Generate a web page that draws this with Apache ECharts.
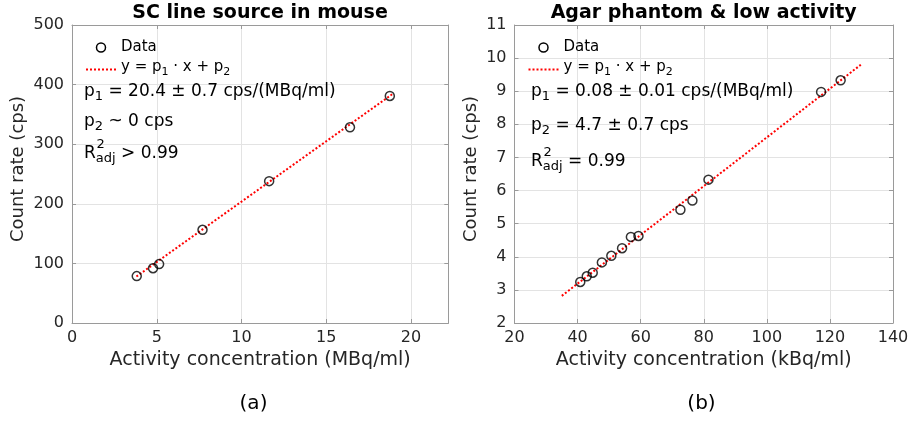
<!DOCTYPE html>
<html><head><meta charset="utf-8">
<script src="https://cdn.jsdelivr.net/npm/echarts@6/dist/echarts.min.js"></script>
<style>html,body{margin:0;padding:0;background:#fff}#c{width:912px;height:426px}</style>
</head><body><div id="c"></div>
<script>
// ---- data ----
const titleA = 'SC line source in mouse';
const titleB = 'Agar phantom & low activity';
const xA = [3.82, 4.78, 5.14, 7.70, 11.63, 16.40, 18.75];
const yA = [78.7, 92.0, 98.8, 156.4, 238.0, 328.3, 381.0];
const fitAx = [3.8, 18.9];
const fitAy = [78, 384];
const xB = [40.85, 42.9, 44.8, 47.7, 50.7, 54.1, 56.9, 59.3, 72.6, 76.4, 81.5, 117.2, 123.4];
const yB = [3.24, 3.41, 3.52, 3.83, 4.03, 4.26, 4.60, 4.63, 5.42, 5.70, 6.33, 8.98, 9.33];
const fitBx = [35, 129.8];
const fitBy = [2.82, 9.80];
const xAxisA = {min: 0, max: 22.2, interval: 5};
const yAxisA = {min: 0, max: 500, interval: 100};
const xAxisB = {min: 20, max: 140, interval: 20};
const yAxisB = {min: 2, max: 11, interval: 1};
const xNameA = 'Activity concentration (MBq/ml)';
const xNameB = 'Activity concentration (kBq/ml)';
const yName = 'Count rate (cps)';
const annA = [['p', '1', ' = 20.4 ± 0.7 cps/(MBq/ml)'], ['p', '2', ' ~ 0 cps'], ['R', 'adj', ' > 0.99']];
const annB = [['p', '1', ' = 0.08 ± 0.01 cps/(MBq/ml)'], ['p', '2', ' = 4.7 ± 0.7 cps'], ['R', 'adj', ' = 0.99']];
const panelLabels = ['(a)', '(b)'];

const F = 'DejaVu Sans';
const AX = '#9a9a9a', GR = '#e3e3e3', TXT = '#262626';
const grids = [
  {left: 72, right: 463.7, top: 25, bottom: 103},
  {left: 514.5, right: 19, top: 25, bottom: 103}
];

function zip(a, b) { return a.map((v, i) => [v, b[i]]); }

function mainX(gi, r, name) {
  return {gridIndex: gi, type: 'value', position: 'bottom', min: r.min, max: r.max, interval: r.interval,
    name: name, nameLocation: 'middle', nameGap: 26,
    nameTextStyle: {fontFamily: F, fontSize: 19, color: TXT},
    axisLine: {show: true, onZero: false, lineStyle: {color: AX, width: 1}},
    axisTick: {show: true, inside: true, length: 4, lineStyle: {color: AX}},
    axisLabel: {show: true, fontFamily: F, fontSize: 16, color: TXT, margin: 7, showMaxLabel: r.max % r.interval === 0},
    splitLine: {show: true, lineStyle: {color: GR, width: 1}}};
}
function mirrorX(gi, r) {
  return {gridIndex: gi, type: 'value', position: 'top', min: r.min, max: r.max, interval: r.interval,
    axisLine: {show: true, onZero: false, lineStyle: {color: AX, width: 1}},
    axisTick: {show: true, inside: true, length: 4, lineStyle: {color: AX}},
    axisLabel: {show: false}, splitLine: {show: false}};
}
function mainY(gi, r, gap) {
  return {gridIndex: gi, type: 'value', position: 'left', min: r.min, max: r.max, interval: r.interval,
    name: yName, nameLocation: 'middle', nameGap: gap,
    nameTextStyle: {fontFamily: F, fontSize: 18, color: TXT, padding: [0, 0, 0, 10]},
    axisLine: {show: true, onZero: false, lineStyle: {color: AX, width: 1}},
    axisTick: {show: true, inside: true, length: 4, lineStyle: {color: AX}},
    axisLabel: {show: true, fontFamily: F, fontSize: 16, color: TXT, margin: 8},
    splitLine: {show: true, lineStyle: {color: GR, width: 1}}};
}
function mirrorY(gi, r) {
  return {gridIndex: gi, type: 'value', position: 'right', min: r.min, max: r.max, interval: r.interval,
    axisLine: {show: true, onZero: false, lineStyle: {color: AX, width: 1}},
    axisTick: {show: true, inside: true, length: 4, lineStyle: {color: AX}},
    axisLabel: {show: false}, splitLine: {show: false}};
}

const rich = {
  m: {fontFamily: F, fontSize: 17, lineHeight: 20, verticalAlign: 'top', color: '#000'},
  s: {fontFamily: F, fontSize: 13, lineHeight: 6, verticalAlign: 'bottom', color: '#000'},
  lm: {fontFamily: F, fontSize: 15, lineHeight: 18, verticalAlign: 'top', color: '#000'},
  ls: {fontFamily: F, fontSize: 11, lineHeight: 6, verticalAlign: 'bottom', color: '#000'}
};

function annText(parts, x, y) {
  return {type: 'text', x: x, y: y, z: 100,
    style: {text: '{m|' + parts[0] + '}{s|' + parts[1] + '}{m|' + parts[2] + '}', rich: rich,
      align: 'left', verticalAlign: 'middle', textAlign: 'left', textVerticalAlign: 'middle'}};
}
function plainText(t, x, y, size, weight, align) {
  return {type: 'text', x: x, y: y, z: 100,
    style: {text: t, fontFamily: F, fontSize: size, fontWeight: weight || 'normal', fill: '#000',
      align: align || 'center', verticalAlign: 'middle', textAlign: align || 'center', textVerticalAlign: 'middle'}};
}
function legendGroup(x0, y0) {
  return [
    {type: 'circle', shape: {cx: x0 + 15, cy: y0, r: 4.5}, z: 100,
      style: {fill: 'none', stroke: '#000', lineWidth: 1.5}},
    plainText('Data', x0 + 35, y0, 15, 'normal', 'left'),
    {type: 'line', shape: {x1: x0, y1: y0 + 22, x2: x0 + 30, y2: y0 + 22}, z: 100,
      style: {stroke: '#ff0000', lineWidth: 2, lineDash: [2, 2]}},
    {type: 'text', x: x0 + 35, y: y0 + 21, z: 100,
      style: {text: '{lm|y = p}{ls|1}{lm| · x + p}{ls|2}', rich: rich, align: 'left', verticalAlign: 'middle',
        textAlign: 'left', textVerticalAlign: 'middle'}}
  ];
}

const graphics = [].concat(
  [plainText(titleA, 260, 13, 19, 'bold'), plainText(titleB, 703.7, 13, 19, 'bold')],
  legendGroup(86, 47.5),
  legendGroup(528.5, 47.5),
  [annText(annA[0], 84, 93.3), annText(annA[1], 84, 123.3), annText(annA[2], 84, 155),
   plainText('2', 96.5, 145, 13, 'normal', 'left'),
   annText(annB[0], 531, 93.3), annText(annB[1], 531, 126.7), annText(annB[2], 531, 162.7),
   plainText('2', 543.5, 153, 13, 'normal', 'left'),
   plainText(panelLabels[0], 253.5, 404, 20), plainText(panelLabels[1], 701.5, 404, 20)]
);

const scatterStyle = {color: 'rgba(0,0,0,0)', borderColor: '#000', borderWidth: 1.5};
const fitStyle = {color: '#ff0000', width: 2, type: [2, 2]};

const option = {
  animation: false,
  backgroundColor: '#fff',
  grid: grids,
  xAxis: [mainX(0, xAxisA, xNameA), mirrorX(0, xAxisA), mainX(1, xAxisB, xNameB), mirrorX(1, xAxisB)],
  yAxis: [mainY(0, yAxisA, 45), mirrorY(0, yAxisA), mainY(1, yAxisB, 34), mirrorY(1, yAxisB)],
  series: [
    {type: 'line', xAxisIndex: 0, yAxisIndex: 0, data: zip(fitAx, fitAy), showSymbol: false, lineStyle: fitStyle, z: 3},
    {type: 'scatter', xAxisIndex: 0, yAxisIndex: 0, data: zip(xA, yA), symbol: 'circle', symbolSize: 9, itemStyle: scatterStyle, z: 4},
    {type: 'line', xAxisIndex: 2, yAxisIndex: 2, data: zip(fitBx, fitBy), showSymbol: false, lineStyle: fitStyle, z: 3},
    {type: 'scatter', xAxisIndex: 2, yAxisIndex: 2, data: zip(xB, yB), symbol: 'circle', symbolSize: 9, itemStyle: scatterStyle, z: 4}
  ],
  graphic: graphics
};
const chart = echarts.init(document.getElementById('c'));
chart.setOption(option);
</script></body></html>
